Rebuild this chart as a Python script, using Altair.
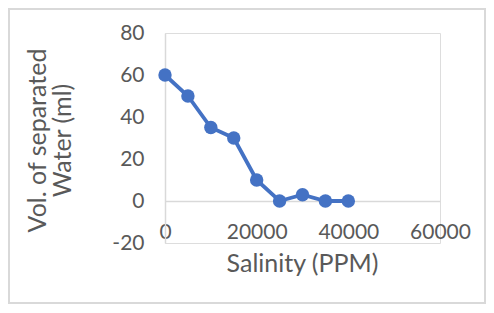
import altair as alt
import pandas as pd

salinity = [0, 5000, 10000, 15000, 20000, 25000, 30000, 35000, 40000]
water = [60, 50, 35, 30, 10, 0, 3, 0, 0]

df = pd.DataFrame({"salinity": salinity, "water": water})

FONT = "Lato"
GRAY = "#595959"
AXISC = "#d9d9d9"
BLUE = "#4472C4"

x = alt.X(
    "salinity:Q",
    scale=alt.Scale(domain=[0, 60000], nice=False, zero=False),
    axis=alt.Axis(
        values=[0, 20000, 40000, 60000],
        labelExpr="'' + datum.value",
        offset=-42,
        ticks=False,
        grid=False,
        domainColor=AXISC,
        domainWidth=1.5,
        labelBaseline="middle",
        labelPadding=31,
        labelFontSize=21,
        labelFont=FONT,
        labelColor=GRAY,
        labelFlush=False,
        title="Salinity (PPM)",
        titleFont=FONT,
        titleFontSize=25,
        titleFontWeight="normal",
        titleColor=GRAY,
        titleX=137,
        titleY=62,
        titleBaseline="middle",
        titleAnchor="middle",
    ),
)
y = alt.Y(
    "water:Q",
    scale=alt.Scale(domain=[-20, 80], nice=False, zero=False),
    axis=alt.Axis(
        values=[-20, 0, 20, 40, 60, 80],
        labelExpr="'' + datum.value",
        ticks=False,
        grid=False,
        domainColor=AXISC,
        domainWidth=1.5,
        labelPadding=21,
        labelFontSize=21,
        labelFont=FONT,
        labelColor=GRAY,
        labelFlush=False,
        title=["Vol. of separated", "Water (ml)"],
        titleFont=FONT,
        titleFontSize=25,
        titleFontWeight="normal",
        titleColor=GRAY,
        titleLineHeight=25,
        titleX=-128,
        titleY=107,
        titleBaseline="middle",
        titleAnchor="middle",
    ),
)

border = alt.Chart(df).mark_rect(
    fill=None, stroke="#d9d9d9", strokeWidth=1.5
).encode(
    x=alt.value(-156), x2=alt.value(320), y=alt.value(-24), y2=alt.value(270)
)

line = alt.Chart(df).mark_line(color=BLUE, strokeWidth=3.8).encode(x=x, y=y)
pts = alt.Chart(df).mark_point(
    filled=True, color=BLUE, size=180, opacity=1, shape="circle"
).encode(x=x, y=y)

chart = alt.layer(border, line, pts).properties(
    width=275, height=210, padding=0
).configure_view(stroke=None).configure(background="white")

chart.save("out.html", embed_options={"renderer": "svg", "actions": False})
